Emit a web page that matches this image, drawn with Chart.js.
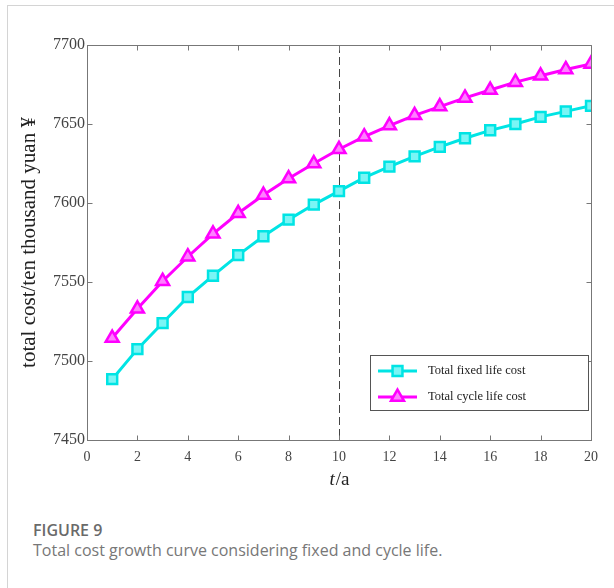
<!DOCTYPE html>
<html>
<head>
<meta charset="utf-8">
<script src="https://cdn.jsdelivr.net/npm/chart.js@4/dist/chart.umd.min.js"></script>
<style>
  html, body { margin: 0; padding: 0; background: #fff; }
  body { width: 614px; height: 588px; position: relative; overflow: hidden; }
  #frame { position: absolute; left: 7px; top: 5px; width: 607px; height: 583px;
           border-left: 1px solid #d4d4d4; border-top: 1px solid #d4d4d4; box-sizing: border-box; }
  #wrap { position: absolute; left: 0; top: 0; width: 614px; height: 500px; }
  #fig { position: absolute; left: 33px; top: 522px; font-family: "Open Sans", sans-serif;
         font-weight: 600; font-size: 16px; line-height: 16px; color: #6a6a6a; }
  #cap { position: absolute; left: 33px; top: 542px; font-family: "Open Sans", sans-serif;
         font-size: 16px; line-height: 16px; color: #777; white-space: nowrap; }
</style>
</head>
<body>
<div id="frame"></div>
<div id="wrap"><canvas id="c" width="614" height="500"></canvas></div>
<div id="fig">FIGURE 9</div>
<div id="cap">Total cost growth curve considering fixed and cycle life.</div>
<script>
const years = [1,2,3,4,5,6,7,8,9,10,11,12,13,14,15,16,17,18,19,20];
const fixedLifeCost = [7488.5,7507.5,7524,7540.5,7554,7567,7579,7589.5,7599,7607.5,7616,7623,7629.5,7635.5,7641,7646,7650,7654.5,7658,7661.5];
const cycleLifeCost = [7514.5,7533,7550.5,7566,7580.5,7593.5,7605,7615.5,7625,7634,7642,7649,7655.5,7661,7666.5,7671.5,7676.5,7680.5,7684.5,7688];
const seriesNames = ["Total fixed life cost", "Total cycle life cost"];
const xTitleItalic = "t";
const xTitleRest = "/a";
const yTitle = "total cost/ten thousand yuan \u00A5";

const CYAN = "#00e4e4";
const MAG = "#ff00ff";
const SERIF = "'Liberation Serif', 'DejaVu Serif', serif";

const frameAndTicks = {
  id: 'frameAndTicks',
  beforeDatasetsDraw(chart) {
    const {ctx, chartArea: a, scales: {x}} = chart;
    ctx.save();
    const px = Math.round(x.getPixelForValue(10)) + 0.5;
    ctx.strokeStyle = '#444';
    ctx.lineWidth = 1;
    ctx.setLineDash([8, 4]);
    ctx.beginPath(); ctx.moveTo(px, a.top); ctx.lineTo(px, a.bottom); ctx.stroke();
    ctx.setLineDash([]);
    ctx.restore();
  },
  afterDraw(chart) {
    const {ctx, chartArea: a, scales: {x, y}} = chart;
    ctx.save();
    ctx.strokeStyle = '#777';
    ctx.lineWidth = 1;
    const L = Math.round(a.left) + 0.5, R = Math.round(a.right) + 0.5;
    const T = Math.round(a.top) + 0.5, B = Math.round(a.bottom) + 0.5;
    ctx.beginPath();
    ctx.moveTo(L, T); ctx.lineTo(R, T); ctx.lineTo(R, B);
    ctx.stroke();
    const tl = 5;
    ctx.beginPath();
    x.ticks.forEach(t => {
      const p = Math.round(x.getPixelForValue(t.value)) + 0.5;
      ctx.moveTo(p, B); ctx.lineTo(p, B - tl);
      ctx.moveTo(p, T); ctx.lineTo(p, T + tl);
    });
    y.ticks.forEach(t => {
      const p = Math.round(y.getPixelForValue(t.value)) + 0.5;
      ctx.moveTo(L, p); ctx.lineTo(L + tl, p);
      ctx.moveTo(R, p); ctx.lineTo(R - tl, p);
    });
    ctx.stroke();

    // x title "t/a"
    ctx.fillStyle = '#222';
    ctx.textBaseline = 'alphabetic';
    ctx.font = "italic 19px " + SERIF;
    const w1 = ctx.measureText(xTitleItalic).width;
    ctx.font = "19px " + SERIF;
    const w2 = ctx.measureText(xTitleRest).width;
    const cx = x.getPixelForValue(10);
    const sx = cx - (w1 + w2) / 2;
    ctx.font = "italic 19px " + SERIF;
    ctx.fillText(xTitleItalic, sx, 485);
    ctx.font = "19px " + SERIF;
    ctx.fillText(xTitleRest, sx + w1 + 1, 485);

    // legend
    const bx = 370.5, by = 355.5, bw = 218, bh = 55;
    ctx.fillStyle = '#fff';
    ctx.fillRect(bx, by, bw, bh);
    ctx.strokeStyle = '#555';
    ctx.lineWidth = 1;
    ctx.strokeRect(bx, by, bw, bh);
    const rows = [371, 397];
    chart.data.datasets.forEach((ds, i) => {
      const ry = rows[i];
      ctx.strokeStyle = ds.borderColor;
      ctx.lineWidth = 3;
      ctx.beginPath(); ctx.moveTo(378, ry); ctx.lineTo(417, ry); ctx.stroke();
      ctx.save();
      ctx.fillStyle = ds.pointBackgroundColor;
      ctx.strokeStyle = ds.borderColor;
      ctx.lineWidth = ds.pointBorderWidth;
      Chart.helpers.drawPoint(ctx, {pointStyle: ds.pointStyle, radius: ds.pointRadius, borderWidth: ds.pointBorderWidth, rotation: 0}, 397.5, ry);
      ctx.restore();
      ctx.fillStyle = '#222';
      ctx.font = "12.5px " + SERIF;
      ctx.textBaseline = 'middle';
      ctx.fillText(ds.label, 428, ry);
    });
    ctx.restore();
  }
};

new Chart(document.getElementById('c'), {
  type: 'line',
  data: {
    datasets: [
      {
        label: seriesNames[0],
        data: years.map((v, i) => ({x: v, y: fixedLifeCost[i]})),
        borderColor: CYAN, backgroundColor: CYAN,
        borderWidth: 3, pointStyle: 'rect', pointRadius: 7,
        pointBorderWidth: 2.5, pointBackgroundColor: '#7af5f5', pointBorderColor: CYAN,
        tension: 0, fill: false
      },
      {
        label: seriesNames[1],
        data: years.map((v, i) => ({x: v, y: cycleLifeCost[i]})),
        borderColor: MAG, backgroundColor: MAG,
        borderWidth: 3, pointStyle: 'triangle', pointRadius: 7.5,
        pointBorderWidth: 2.5, pointBackgroundColor: '#ff80ff', pointBorderColor: MAG,
        tension: 0, fill: false
      }
    ]
  },
  options: {
    responsive: false,
    animation: false,
    devicePixelRatio: 1,
    layout: { padding: { left: 0, top: 45, right: 23, bottom: 0 } },
    plugins: { legend: { display: false }, tooltip: { enabled: false } },
    scales: {
      x: {
        type: 'linear', min: 0, max: 20,
        ticks: { stepSize: 2, color: '#444', padding: 9, font: { family: SERIF, size: 14 }, maxRotation: 0,
                 callback: v => String(v) },
        grid: { display: false, drawTicks: false },
        border: { display: true, color: '#777', width: 1 },
        afterFit: s => { s.height = 60; }
      },
      y: {
        type: 'linear', min: 7450, max: 7700,
        ticks: { stepSize: 50, color: '#444', padding: 2, font: { family: SERIF, size: 16 },
                 callback: v => String(v) },
        grid: { display: false, drawTicks: false },
        border: { display: true, color: '#777', width: 1 },
        title: { display: true, text: yTitle, color: '#222', font: { family: SERIF, size: 21 }, padding: { top: 17, bottom: 0 } },
        afterFit: s => { s.width = 87; }
      }
    }
  },
  plugins: [frameAndTicks]
});
</script>
</body>
</html>
